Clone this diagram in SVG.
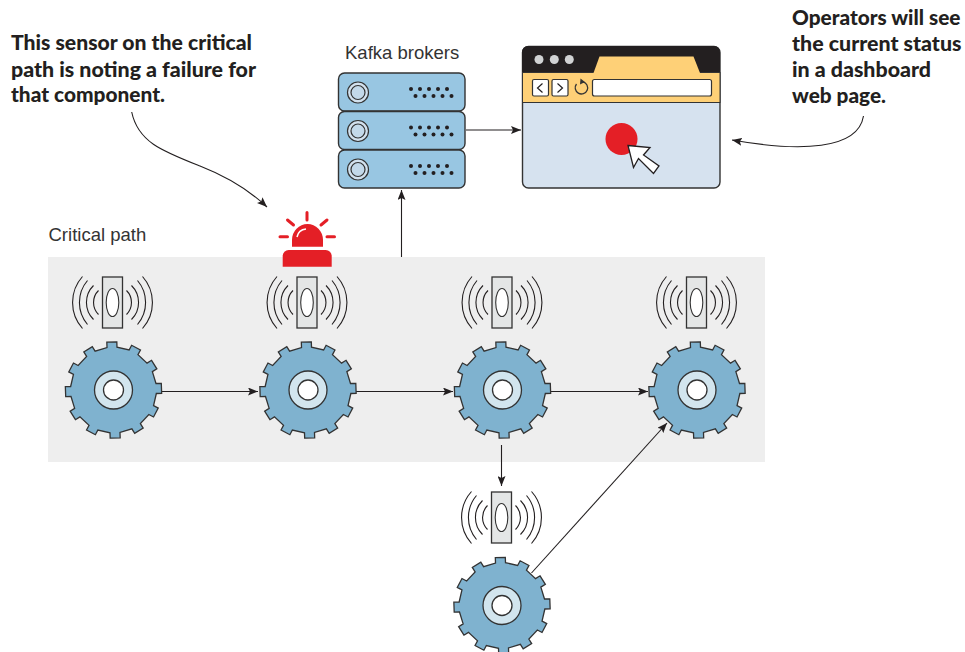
<svg xmlns="http://www.w3.org/2000/svg" xmlns:xlink="http://www.w3.org/1999/xlink" width="965" height="652" viewBox="0 0 965 652">
<style>
.call{font-family:Lato,"Liberation Sans",sans-serif;font-weight:900;font-size:21px;fill:#231f20}
.lab{font-family:"Liberation Sans",Arial,sans-serif;font-size:18.500px;fill:#333}
.ln{fill:none;stroke:#231f20;stroke-width:1.1}
.o{stroke:#333;stroke-width:1.3}
.wave{fill:none;stroke:#231f20;stroke-width:1.1}
.dot{fill:#231f20}
</style>
<defs>
<marker id="ah" markerUnits="userSpaceOnUse" markerWidth="11" markerHeight="8" refX="10" refY="4" orient="auto"><path d="M0,0L10,4L0,8L2,4Z" fill="#231f20"/></marker>
<g id="gear">
<polygon class="o" fill="#7fb2cf" points="-5,-42.7 -5,-48 5,-48 5,-42.7 17.02,-39.48 19.67,-44.07 28.33,-39.07 25.68,-34.48 34.48,-25.68 39.07,-28.33 44.07,-19.67 39.48,-17.02 42.7,-5 48,-5 48,5 42.7,5 39.48,17.02 44.07,19.67 39.07,28.33 34.48,25.68 25.68,34.48 28.33,39.07 19.67,44.07 17.02,39.48 5,42.7 5,48 -5,48 -5,42.7 -17.02,39.48 -19.67,44.07 -28.33,39.07 -25.68,34.48 -34.48,25.68 -39.07,28.33 -44.07,19.67 -39.48,17.02 -42.7,5 -48,5 -48,-5 -42.7,-5 -39.48,-17.02 -44.07,-19.67 -39.07,-28.33 -34.48,-25.68 -25.68,-34.48 -28.33,-39.07 -19.67,-44.07 -17.02,-39.48" transform="rotate(-2)"/>
<circle r="19" fill="#d2e5ee" class="o"/>
<circle r="10" fill="#fff" class="o"/>
</g>
<g id="sensor">
<rect x="-10" y="-25.500" width="20" height="51" fill="#e4e6e6" stroke="#333" stroke-width="1.3"/>
<ellipse rx="6.300" ry="14" fill="#fff" stroke="#333" stroke-width="1.1"/>
<path class="wave" d="M-30,-26A39,39 0 0 0 -30,26M-25,-22A34,34 0 0 0 -25,22M-19,-17A24,24 0 0 0 -19,17M-14,-12A17,17 0 0 0 -14,12M30,-26A39,39 0 0 1 30,26M25,-22A34,34 0 0 1 25,22M19,-17A24,24 0 0 1 19,17M14,-12A17,17 0 0 1 14,12"/>
</g>
<g id="server">
<rect x="0" y="0" width="126.500" height="38" rx="6" fill="#98c6e2" stroke="#333" stroke-width="1.4"/>
<circle cx="19.500" cy="19.500" r="10.500" fill="#d2e1ee" stroke="#333" stroke-width="1.2"/>
<circle cx="19.500" cy="19.500" r="7" fill="#c3d9ea" stroke="#333" stroke-width="1.2"/>
<g class="dot"><circle cx="72.500" cy="16" r="2"/><circle cx="81.500" cy="16" r="2"/><circle cx="90.500" cy="16" r="2"/><circle cx="99.500" cy="16" r="2"/><circle cx="108.500" cy="16" r="2"/><circle cx="77" cy="23" r="2"/><circle cx="86" cy="23" r="2"/><circle cx="95" cy="23" r="2"/><circle cx="104" cy="23" r="2"/><circle cx="113" cy="23" r="2"/></g>
</g>
</defs>
<rect id="panel" x="48" y="257" width="717" height="205" fill="#eeeeee"/>
<text class="lab" x="48.500" y="241">Critical path</text>
<g id="connectors">
<path class="ln" d="M466,130H521" marker-end="url(#ah)"/>
<path class="ln" d="M401.500,257V190" marker-end="url(#ah)"/>
<path class="ln" d="M160,391.500H258" marker-end="url(#ah)"/>
<path class="ln" d="M355,391.500H453" marker-end="url(#ah)"/>
<path class="ln" d="M549,391.500H648" marker-end="url(#ah)"/>
<path class="ln" d="M501.500,445V486" marker-end="url(#ah)"/>
<path class="ln" d="M531.500,573L667,423" marker-end="url(#ah)"/>
<path class="ln" d="M131.700,112C138,142 162,151 200,166C228,177 248,189 267,207" marker-end="url(#ah)"/>
<path class="ln" d="M863.500,116C858,150 800,152 732,140" marker-end="url(#ah)"/>
</g>
<g id="kafka">
<text class="lab" x="345" y="59">Kafka brokers</text>
<use href="#server" x="338.500" y="73"/>
<use href="#server" x="338.500" y="111.500"/>
<use href="#server" x="338.500" y="150"/>
</g>
<g id="browser">
<rect x="522.500" y="46.500" width="197.500" height="141.500" rx="6" fill="#d6e2ef" stroke="#333" stroke-width="1.4"/>
<path d="M522,72.500V52a6,6 0 0 1 6,-6H714a6,6 0 0 1 6,6V72.500Z" fill="#231f20"/>
<rect x="522.500" y="72.500" width="197.500" height="30" fill="#fed077" stroke="#333" stroke-width="1"/>
<path d="M593.500,73L599.500,56.500H693.500L700,73Z" fill="#fed077"/>
<circle cx="539" cy="59.500" r="4.500" fill="#d1d3d4"/><circle cx="554.300" cy="59.500" r="4.500" fill="#d1d3d4"/><circle cx="569.300" cy="59.500" r="4.500" fill="#d1d3d4"/>
<rect x="532.500" y="79.500" width="16" height="16.500" rx="1.500" fill="#fff" stroke="#333" stroke-width="1.2"/>
<rect x="552" y="79.500" width="16" height="16.500" rx="1.500" fill="#fff" stroke="#333" stroke-width="1.2"/>
<path d="M542.500,83.500L537.500,88L542.500,92.500M557.500,83.500L562.500,88L557.500,92.500" fill="none" stroke="#231f20" stroke-width="1.2"/>
<path d="M583,81.800A6.200,6.200 0 1 1 576.500,84" fill="none" stroke="#333" stroke-width="1.3"/>
<path d="M580.500,78.500L585,82L580,84.500Z" fill="#333"/>
<rect x="592.500" y="79.500" width="119" height="16.500" rx="2" fill="#fff" stroke="#333" stroke-width="1.2"/>
<circle cx="621.500" cy="139" r="16" fill="#e41f26"/>
<polygon points="628,145.500 650,147.500 643.500,155 659,166 653.500,173.500 638.500,158.500 633.500,167.500" fill="#fff" stroke="#231f20" stroke-width="1.3"/>
</g>
<g id="alarm" fill="#e41f26">
<path d="M282.700,266.700V256a6,6 0 0 1 6,-6H325.700a6,6 0 0 1 6,6V266.700Z"/>
<path d="M292,246.700V240a15.500,16 0 0 1 31,0V246.700Z"/>
<path d="M297,237C298,232 301,229.500 306,229" fill="none" stroke="#fff" stroke-width="1.500"/>
<path d="M307,212.500V220M287.500,220L293.500,225M327,220L321,225M280,236.700H287.500M327,236.700H334.500" fill="none" stroke="#e41f26" stroke-width="3" stroke-linecap="round"/>
</g>
<g id="node1"><use href="#sensor" x="112.500" y="302.500"/><use href="#gear" x="113.500" y="390"/></g>
<g id="node2"><use href="#sensor" x="307" y="302.500"/><use href="#gear" x="308" y="390"/></g>
<g id="node3"><use href="#sensor" x="502" y="302.500"/><use href="#gear" x="502.500" y="390"/></g>
<g id="node4"><use href="#sensor" x="696.500" y="302.500"/><use href="#gear" x="697" y="390"/></g>
<g id="node5"><use href="#sensor" x="501.500" y="517.500"/><use href="#gear" x="502" y="605.500"/></g>
<g id="note1"><text class="call" x="11" y="50" textLength="241" lengthAdjust="spacingAndGlyphs">This sensor on the critical</text><text class="call" x="11" y="76.500" textLength="245" lengthAdjust="spacingAndGlyphs">path is noting a failure for</text><text class="call" x="11" y="102" textLength="154" lengthAdjust="spacingAndGlyphs">that component.</text></g>
<g id="note2"><text class="call" x="792" y="25" textLength="168.500" lengthAdjust="spacingAndGlyphs">Operators will see</text><text class="call" x="792" y="50.700" textLength="169.500" lengthAdjust="spacingAndGlyphs">the current status</text><text class="call" x="792" y="76.700" textLength="139" lengthAdjust="spacingAndGlyphs">in a dashboard</text><text class="call" x="792" y="103" textLength="94" lengthAdjust="spacingAndGlyphs">web page.</text></g>
</svg>
